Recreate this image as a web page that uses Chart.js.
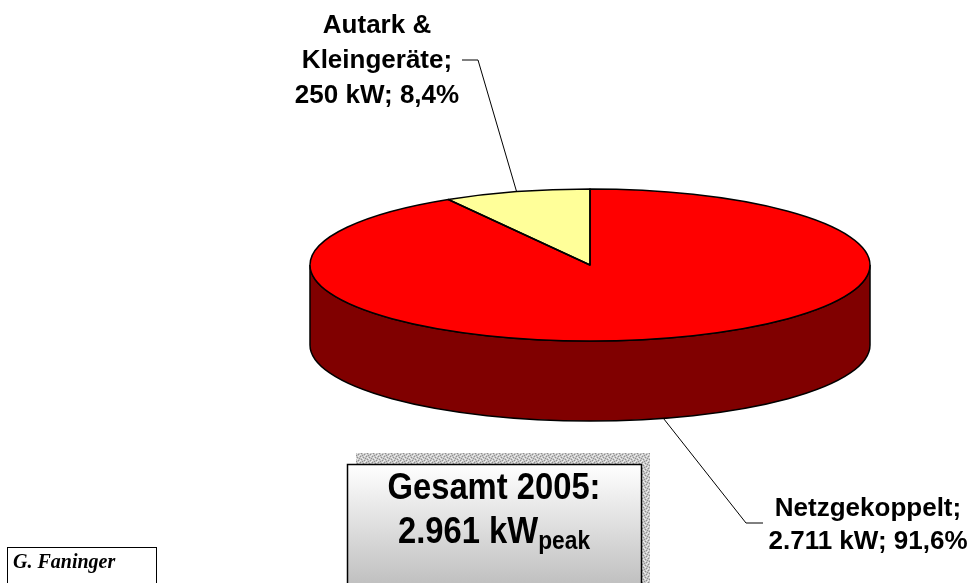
<!DOCTYPE html>
<html>
<head>
<meta charset="utf-8">
<title>Photovoltaik 2005</title>
<script src="https://cdn.jsdelivr.net/npm/chart.js@4.4.1/dist/chart.umd.min.js"></script>
<style>
    html, body { margin: 0; padding: 0; background: #fff; }
    canvas { display: block; }
</style>
</head>
<body>
<canvas id="chart" width="975" height="583"></canvas>
<script>
/**
 * Data of the chart.
 */
const CATEGORIES = ['Netzgekoppelt', 'Autark & Kleingeräte'];
const NAME_LINES = [['Netzgekoppelt;'], ['Autark &', 'Kleingeräte;']];
const POWER_KW = [2711, 250];
const TOTAL_TITLE = 'Gesamt 2005:';
const TOTAL_UNIT = 'kW';
const TOTAL_SUB = 'peak';
const AUTHOR = 'G. Faninger';

const SLICE_COLORS = ['#FF0000', '#FFFF99'];
const SIDE_COLORS = ['#800000', '#80804C'];

/**
 * 3D look: flattening of the top face, its centre and the height of the side wall.
 */
const PIE_CY = 265;
const TILT = 76 / 280;
const DEPTH = 80;

const fmtInt = (n) => String(n).replace(/\B(?=(\d{3})+(?!\d))/g, '.');
const fmtPct = (v, total) => (v / total * 100).toFixed(1).replace('.', ',') + '%';

const onDOMLoaded = () => {
    const CTX = document.getElementById('chart').getContext('2d');
    const total = POWER_KW.reduce((a, b) => a + b, 0);

    /**
     * Label text of every slice: name lines + "value kW; share".
     */
    const labelLines = NAME_LINES.map((lines, i) =>
        [...lines, `${fmtInt(POWER_KW[i])} kW; ${fmtPct(POWER_KW[i], total)}`]);

    /**
     * Part of a slice that lies in the front half (0..PI), there the side wall is visible.
     */
    const frontPart = (s, e) => {
        const out = [];
        for (let k = -1; k <= 2; k++) {
            const lo = Math.max(s, 2 * Math.PI * k);
            const hi = Math.min(e, 2 * Math.PI * k + Math.PI);
            if (hi > lo) {
                out.push([lo, hi]);
            }
        }
        return out;
    };

    const shadowPattern = (ctx) => {
        const tile = document.createElement('canvas');
        tile.width = tile.height = 6;
        const t = tile.getContext('2d');
        t.fillStyle = '#c8c8c8';
        t.fillRect(0, 0, 6, 6);
        t.fillStyle = '#909090';
        [[0, 0], [3, 1], [1, 3], [4, 4], [5, 2], [2, 5]].forEach(([x, y]) => t.fillRect(x, y, 1, 1));
        t.fillStyle = '#eeeeee';
        [[1, 1], [4, 0], [0, 4], [3, 3], [5, 5], [2, 2]].forEach(([x, y]) => t.fillRect(x, y, 1, 1));
        return ctx.createPattern(tile, 'repeat');
    };

    /**
     * Text of the total box is a bit condensed horizontally.
     */
    const narrowText = (ctx, text, x, y, sx) => {
        ctx.save();
        ctx.translate(x, y);
        ctx.scale(sx, 1);
        ctx.fillText(text, 0, 0);
        ctx.restore();
    };

    const pie3d = {
        id: 'pie3d',
        beforeDatasetsDraw(chart) {
            const ctx = chart.ctx;
            const arcs = chart.getDatasetMeta(0).data;
            const { x, y, outerRadius: r } = arcs[0];
            const ry = r * TILT;

            ctx.save();
            ctx.lineWidth = 1.5;
            ctx.strokeStyle = '#000';
            arcs.forEach((arc, i) => {
                frontPart(arc.startAngle, arc.endAngle).forEach(([a0, a1]) => {
                    ctx.beginPath();
                    ctx.ellipse(x, PIE_CY, r, ry, 0, a0, a1, false);
                    ctx.ellipse(x, PIE_CY + DEPTH, r, ry, 0, a1, a0, true);
                    ctx.closePath();
                    ctx.fillStyle = SIDE_COLORS[i];
                    ctx.fill();
                    ctx.stroke();
                });
            });
            ctx.restore();

            /**
             * The library draws a round pie, we squash it into the top face.
             */
            ctx.save();
            ctx.translate(0, PIE_CY);
            ctx.scale(1, TILT);
            ctx.translate(0, -y);
        },
        afterDatasetsDraw(chart) {
            const ctx = chart.ctx;
            ctx.restore();

            const arcs = chart.getDatasetMeta(0).data;
            ctx.save();
            ctx.lineWidth = 1.5;
            ctx.strokeStyle = '#000';
            ctx.lineJoin = 'round';
            arcs.forEach((arc) => {
                ctx.beginPath();
                ctx.moveTo(arc.x, PIE_CY);
                ctx.ellipse(arc.x, PIE_CY, arc.outerRadius, arc.outerRadius * TILT, 0, arc.startAngle, arc.endAngle);
                ctx.closePath();
                ctx.stroke();
            });
            ctx.restore();
        },
        afterDraw(chart) {
            const ctx = chart.ctx;
            const arcs = chart.getDatasetMeta(0).data;

            /**
             * Leader lines from the slice edge to the labels.
             */
            const elbows = [[[746, 523], [763, 523]], [[478, 60], [462, 60]]];
            ctx.save();
            ctx.lineWidth = 1;
            ctx.strokeStyle = '#000';
            arcs.forEach((arc, i) => {
                const m = (arc.startAngle + arc.endAngle) / 2;
                const px = arc.x + arc.outerRadius * Math.cos(m);
                let py = PIE_CY + arc.outerRadius * TILT * Math.sin(m);
                if (Math.sin(m) > 0) {
                    py += DEPTH;
                }
                ctx.beginPath();
                ctx.moveTo(px, py);
                elbows[i].forEach(([ex, ey]) => ctx.lineTo(ex, ey));
                ctx.stroke();
            });

            /**
             * Slice labels.
             */
            const anchors = [{ x: 868, y: 516, lh: 33 }, { x: 377, y: 33, lh: 35 }];
            ctx.fillStyle = '#000';
            ctx.font = 'bold 26px "Liberation Sans", Arial, sans-serif';
            ctx.textAlign = 'center';
            ctx.textBaseline = 'alphabetic';
            labelLines.forEach((lines, i) => {
                lines.forEach((line, j) => ctx.fillText(line, anchors[i].x, anchors[i].y + j * anchors[i].lh));
            });

            /**
             * Total box with its patterned shadow.
             */
            ctx.fillStyle = shadowPattern(ctx);
            ctx.fillRect(356, 453, 294, 140);
            const grad = ctx.createLinearGradient(0, 464, 0, 590);
            grad.addColorStop(0, '#ffffff');
            grad.addColorStop(1, '#bdbdbd');
            ctx.fillStyle = grad;
            ctx.fillRect(347, 464, 295, 130);
            ctx.lineWidth = 1.5;
            ctx.strokeRect(347.5, 464.5, 294, 130);

            const SX = 0.91;
            ctx.fillStyle = '#000';
            ctx.font = 'bold 36px "Liberation Sans", Arial, sans-serif';
            narrowText(ctx, TOTAL_TITLE, 494, 499, SX);
            const main = `${fmtInt(total)} ${TOTAL_UNIT}`;
            const wMain = ctx.measureText(main).width * SX;
            ctx.font = 'bold 25px "Liberation Sans", Arial, sans-serif';
            const wSub = ctx.measureText(TOTAL_SUB).width * SX;
            const x0 = 494 - (wMain + wSub) / 2;
            ctx.textAlign = 'left';
            narrowText(ctx, TOTAL_SUB, x0 + wMain, 549, SX);
            ctx.font = 'bold 36px "Liberation Sans", Arial, sans-serif';
            narrowText(ctx, main, x0, 543, SX);

            /**
             * Author box.
             */
            ctx.lineWidth = 1;
            ctx.strokeRect(7.5, 547.5, 149, 50);
            ctx.font = 'italic bold 20px "Liberation Serif", serif';
            ctx.fillText(AUTHOR, 13, 568);
            ctx.restore();
        }
    };

    new Chart(CTX, {
        type: 'pie',
        data: {
            labels: CATEGORIES,
            datasets: [{
                data: POWER_KW,
                backgroundColor: SLICE_COLORS,
                borderWidth: 0,
                hoverOffset: 0,
                clip: false
            }]
        },
        options: {
            responsive: false,
            animation: false,
            events: [],
            layout: { padding: { left: 310, right: 105, top: 0, bottom: 0 } },
            plugins: {
                legend: { display: false },
                tooltip: { enabled: false }
            }
        },
        plugins: [pie3d]
    });
};

document.addEventListener('DOMContentLoaded', onDOMLoaded);
</script>
</body>
</html>
